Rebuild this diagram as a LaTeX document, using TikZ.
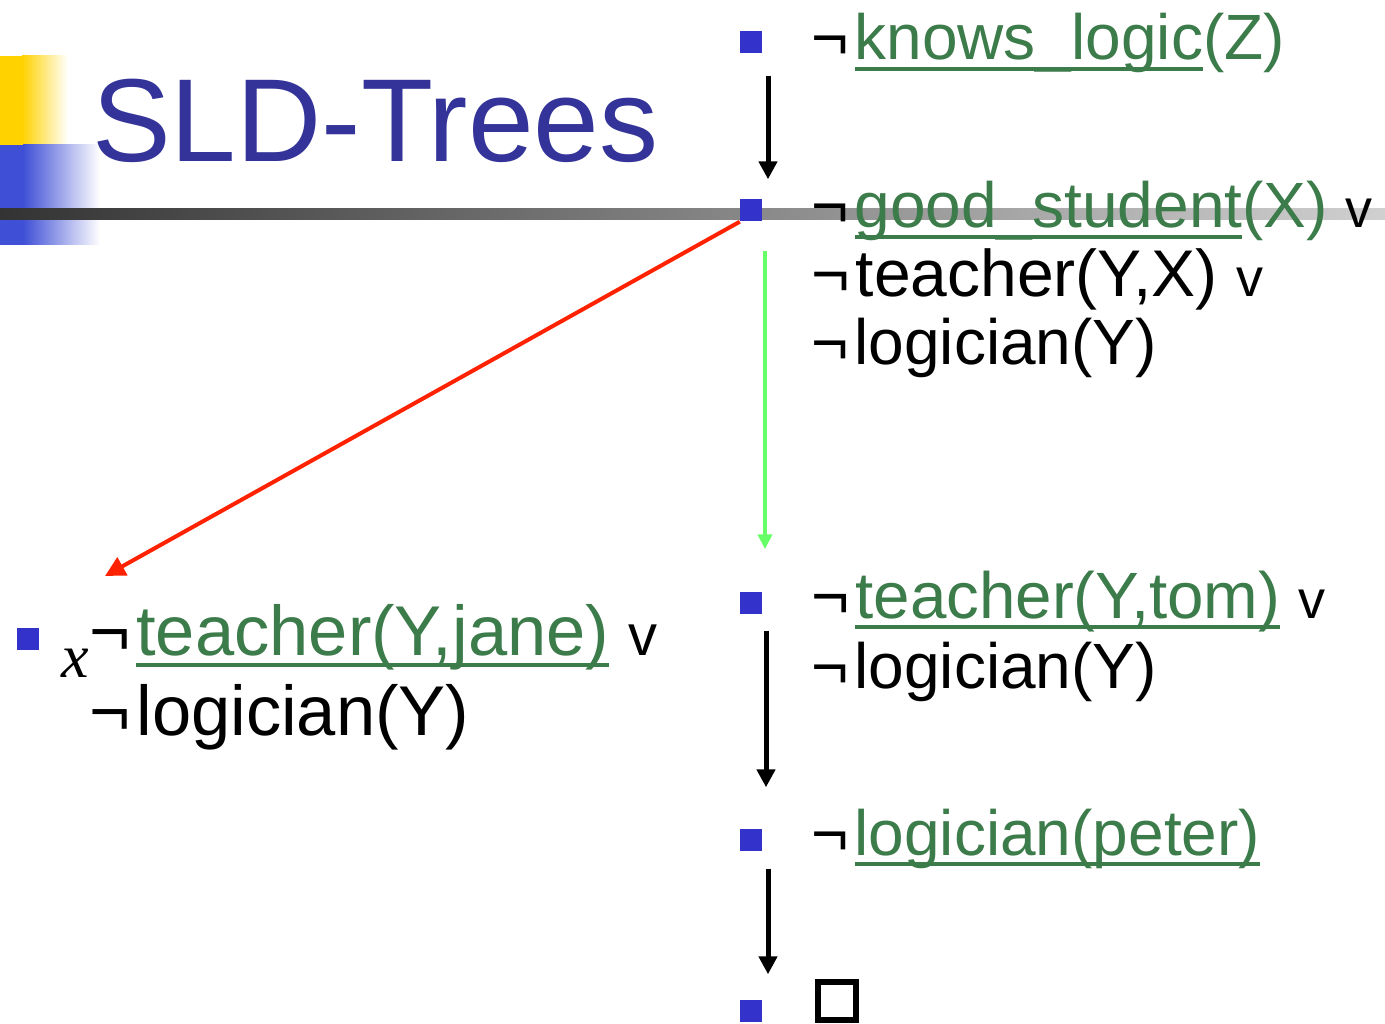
\RequirePackage{fix-cm}
\documentclass[tikz,border=0pt]{standalone}
\usepackage{fontspec}
\setmainfont{Liberation Sans}
\newfontfamily\timesit{Liberation Serif}
\usetikzlibrary{arrows.meta}
\definecolor{bul}{HTML}{3333CC}
\definecolor{gr}{HTML}{3C7B4A}
\definecolor{ttl}{HTML}{333399}
\definecolor{redarrow}{HTML}{FF2200}
\definecolor{grarrow}{HTML}{66FF66}
\definecolor{yel}{HTML}{FFD200}
\definecolor{blu}{HTML}{4050D6}
\definecolor{barL}{HTML}{333333}
\definecolor{barR}{HTML}{D0D0D0}
\newcommand\ulg[1]{\setbox0\hbox{#1}\rlap{\rule[-0.17em]{\wd0}{0.06em}}\box0}
\newcommand\negsym{\textcolor{black}{¬}\kern6pt}
\newcommand\vsym[1][52]{{\fontsize{#1}{#1}\selectfont v}}
\begin{document}
\begin{tikzpicture}[x=1pt,y=-1pt,
  bullet/.style={fill=bul, minimum size=22pt, inner sep=0pt, draw=none},
  txt/.style={anchor=base west, inner sep=0pt, font=\fontsize{64}{70}\selectfont},
  bigtxt/.style={anchor=base west, inner sep=0pt, font=\fontsize{70.5}{75}\selectfont},
  arr/.style={-{Triangle[length=18pt,width=18pt]}, line width=5pt},
  redarr/.style={-{Triangle[length=20pt,width=20pt]}, line width=4pt, draw=redarrow},
  grarr/.style={-{Triangle[length=15pt,width=14pt]}, line width=4pt, draw=grarrow}]
\useasboundingbox (0,0) rectangle (1385,1024);
% decoration
\fill[yel] (0,56) rectangle (22,145);
\shade[left color=yel, right color=white] (22,56) rectangle (68,145);
\fill[blu] (0,145) rectangle (23,245);
\shade[left color=blu, right color=white] (23,145) rectangle (100,245);
\shade[left color=barL, right color=barR] (0,209) rectangle (1385,220);
% title
\node[anchor=base west, inner sep=0pt, text=ttl, font=\fontsize{118}{120}\selectfont] (title) at (92,162) {SLD-Trees};
% bullets
\node[bullet] (b1) at (751,42.5) {};
\node[bullet] (b2) at (751,210.5) {};
\node[bullet] (b5) at (28,639) {};
\node[bullet] (b6) at (751,602.5) {};
\node[bullet] (b7) at (751,839.5) {};
\node[bullet] (b8) at (751,1010.5) {};
% texts
\node[txt] (t1) at (811,60) {\negsym\textcolor{gr}{\ulg{knows\_logic}(Z)}};
\node[txt] (t2a) at (811,228) {\negsym\textcolor{gr}{\ulg{good\_student}(X)} \vsym[54]};
\node[txt, font=\fontsize{66}{70}\selectfont] (t2b) at (811,297) {\negsym teacher(Y,X) \vsym[54]};
\node[txt] (t2c) at (811,365) {\negsym logician(Y)};
\node[txt, font=\fontsize{65.5}{70}\selectfont] (t6a) at (811,618) {\negsym\textcolor{gr}{\ulg{teacher(Y,tom)}} \vsym[54]};
\node[txt] (t6b) at (811,688) {\negsym logician(Y)};
\node[txt] (t7) at (811,855) {\negsym\textcolor{gr}{\ulg{logician(peter)}}};
\node[draw=black, line width=6pt, minimum size=38pt, inner sep=0pt] (box) at (837,1001) {};
\node[anchor=base west, inner sep=0pt, font=\fontsize{62}{62}\timesit\itshape] (tx) at (61,677) {x};
\node[bigtxt] (t5a) at (89,655) {\negsym\textcolor{gr}{\ulg{teacher(Y,jane)}} \vsym[58]};
\node[bigtxt] (t5b) at (89,735) {\negsym logician(Y)};
\coordinate (redtip) at (105,576);
% arrows
\draw[arr, shorten <=22pt, shorten >=20pt] ([xshift=17pt]b1.south) -- ([xshift=17pt]b2.north);
\draw[redarr] (b2.south west) -- (redtip);
\draw[grarr, shorten <=29pt, shorten >=42pt] ([xshift=14pt]b2.south) -- ([xshift=14pt]b6.north);
\draw[arr, shorten <=17pt, shorten >=41pt] ([xshift=15pt]b6.south) -- ([xshift=15pt]b7.north);
\draw[arr, shorten <=18pt, shorten >=25pt] ([xshift=17pt]b7.south) -- ([xshift=17pt]b8.north);
\end{tikzpicture}
\end{document}
